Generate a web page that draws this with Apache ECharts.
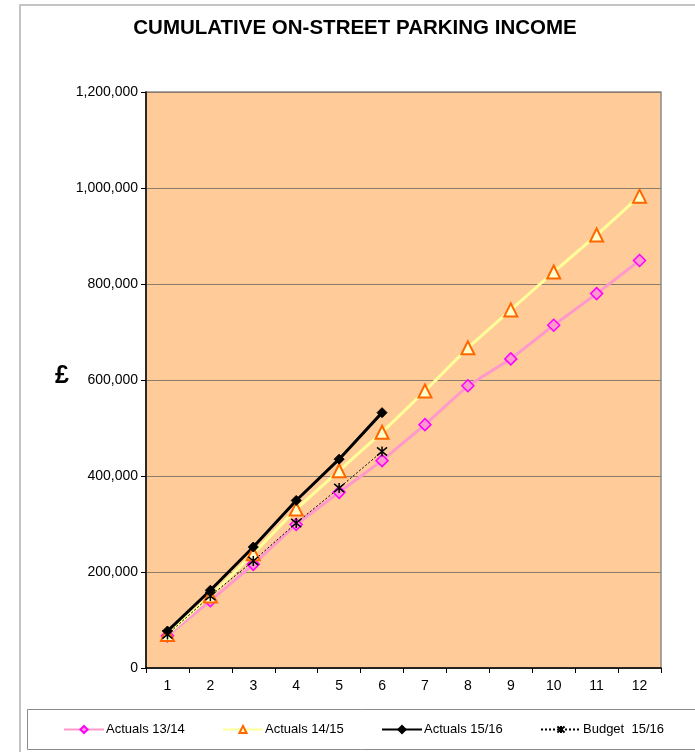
<!DOCTYPE html>
<html>
<head>
<meta charset="utf-8">
<script src="https://cdn.jsdelivr.net/npm/echarts@6/dist/echarts.min.js"></script>
<style>
  html, body { margin: 0; padding: 0; background: #ffffff; }
  #chart { width: 695px; height: 752px; }
</style>
</head>
<body>
<div id="chart"></div>
<script>
// Months of the financial year
const months = ['1', '2', '3', '4', '5', '6', '7', '8', '9', '10', '11', '12'];

// Cumulative income, £
const actuals1314 = [67000, 140000, 216000, 299000, 366000, 432000, 507000, 588000, 644000, 714000, 780000, 849000];
const actuals1415 = [70000, 150000, 238000, 331000, 411000, 491000, 577000, 667000, 746000, 825000, 902000, 983000];
const actuals1516 = [77000, 162000, 252000, 349000, 435000, 532000];
const budget1516  = [70000, 150000, 223000, 302000, 375000, 451000];

const seriesNames = ['Actuals 13/14', 'Actuals 14/15', 'Actuals 15/16', 'Budget  15/16'];

const yTicks = { min: 0, max: 1200000, interval: 200000 };

const asterisk = 'path://M0,0 L10,10 M10,0 L0,10 M5,-1 L5,11';

const chart = echarts.init(document.getElementById('chart'), null, { renderer: 'canvas' });

const FONT = 'Liberation Sans, Arial, sans-serif';

// one legend block per series so each entry sits in its own slot
const legendLefts = [63, 222, 381, 540];
const legends = seriesNames.map((name, i) => ({
  top: 723, left: legendLefts[i], padding: 0,
  itemGap: 0, itemWidth: 40, itemHeight: 9,
  textStyle: { fontFamily: FONT, fontSize: 13, color: '#000000', padding: [0, 0, 0, -3] },
  data: [name]
}));

chart.setOption({
  animation: false,
  backgroundColor: '#ffffff',
  title: {
    text: 'CUMULATIVE ON-STREET PARKING INCOME',
    left: 350, textAlign: 'center', top: 13,
    textStyle: { fontFamily: FONT, fontSize: 20.5, fontWeight: 'bold', color: '#000000' }
  },
  graphic: [
    // outer chart frame
    { type: 'rect', shape: { x: 20, y: 5, width: 700, height: 760 },
      style: { fill: null, stroke: '#c4c4c4', lineWidth: 2 }, silent: true },
    // legend frame
    { type: 'rect', shape: { x: 27.5, y: 709.5, width: 690, height: 40 },
      style: { fill: null, stroke: '#8a8a8a', lineWidth: 1 }, silent: true },
    // y axis unit
    { type: 'text', left: 55, top: 364,
      style: { text: '£', font: 'bold 25px ' + FONT, fill: '#000000' } }
  ],
  legend: legends,
  grid: {
    left: 146, right: 34, top: 92, bottom: 84,
    show: true, backgroundColor: '#FFCC99', borderColor: '#8a8a8a', borderWidth: 1.5
  },
  xAxis: {
    type: 'category', data: months, boundaryGap: true,
    axisLine: { lineStyle: { color: '#000000', width: 1.5 } },
    axisTick: { show: true, length: 5, lineStyle: { color: '#000000' } },
    axisLabel: { fontFamily: FONT, fontSize: 14, color: '#000000', margin: 11 },
    splitLine: { show: false }
  },
  yAxis: {
    type: 'value', min: yTicks.min, max: yTicks.max, interval: yTicks.interval,
    axisLine: { show: true, lineStyle: { color: '#000000', width: 1.5 } },
    axisTick: { show: true, length: 5, lineStyle: { color: '#000000' } },
    axisLabel: {
      fontFamily: FONT, fontSize: 14, color: '#000000', margin: 8,
      formatter: v => v.toLocaleString('en-GB')
    },
    splitLine: { show: true, lineStyle: { color: '#8f7c68', width: 1.2 } }
  },
  series: [
    {
      name: seriesNames[0], type: 'line', data: actuals1314,
      symbol: 'diamond', symbolSize: 12,
      lineStyle: { color: '#FF99CC', width: 3 },
      itemStyle: { color: '#FF99CC', borderColor: '#FF00FF', borderWidth: 1.5 }
    },
    {
      name: seriesNames[1], type: 'line', data: actuals1415,
      symbol: 'triangle', symbolSize: 13,
      lineStyle: { color: '#FFFF99', width: 3 },
      itemStyle: { color: '#FFFFCC', borderColor: '#FF6600', borderWidth: 2 }
    },
    {
      name: seriesNames[2], type: 'line', data: actuals1516,
      symbol: 'diamond', symbolSize: 10,
      lineStyle: { color: '#000000', width: 3 },
      itemStyle: { color: '#000000', borderColor: '#000000', borderWidth: 1 }
    },
    {
      name: seriesNames[3], type: 'line', data: budget1516,
      symbol: asterisk, symbolSize: 10,
      lineStyle: { color: '#000000', width: 1, type: [2, 2] },
      itemStyle: { color: '#000000', borderColor: '#000000', borderWidth: 1.5 }
    }
  ]
});
</script>
</body>
</html>
